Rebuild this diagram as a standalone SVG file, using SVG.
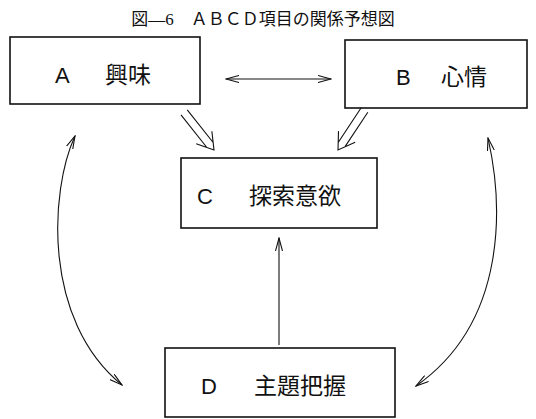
<svg xmlns="http://www.w3.org/2000/svg" width="536" height="419" viewBox="0 0 536 419">
<defs>
<style>
.box{fill:#fff;stroke:#111;stroke-width:1.6}
.lbl{font-family:"Liberation Sans","Noto Sans CJK JP",sans-serif;font-size:22px;fill:#111}
.jp{font-family:"Noto Sans CJK JP",sans-serif;font-size:23px;fill:#111}
.ttl{font-family:"Liberation Serif","Noto Sans CJK JP",serif;font-size:17px;fill:#111}
.ln{fill:none;stroke:#111;stroke-width:1.1}
</style>
<marker id="ah" viewBox="0 0 14 8" refX="13" refY="4" markerWidth="14" markerHeight="8" markerUnits="userSpaceOnUse" orient="auto-start-reverse">
<path d="M0,0.5 L13,4 L0,7.5" fill="none" stroke="#111" stroke-width="1.1"/>
</marker>
</defs>
<rect width="536" height="419" fill="#fff"/>
<text class="ttl" x="263" y="25" text-anchor="middle">図—6　ＡＢＣＤ項目の関係予想図</text>
<g id="nodeA"><rect class="box" x="10" y="37" width="190" height="67"/><text class="lbl" x="55" y="83">A</text><text class="jp" x="105" y="83">興味</text></g>
<g id="nodeB"><rect class="box" x="345" y="40" width="182" height="68"/><text class="lbl" x="396" y="85">B</text><text class="jp" x="441" y="85">心情</text></g>
<g id="nodeC"><rect class="box" x="181" y="158" width="196" height="70"/><text class="lbl" x="197" y="204">C</text><text class="jp" x="249" y="204">探索意欲</text></g>
<g id="nodeD"><rect class="box" x="165" y="348" width="230" height="69"/><text class="lbl" x="201" y="394">D</text><text class="jp" x="254" y="394">主題把握</text></g>
<g id="connectors">
<line class="ln" x1="226" y1="79" x2="331" y2="79" marker-start="url(#ah)" marker-end="url(#ah)"/>
<line class="ln" x1="279" y1="345" x2="279" y2="238" marker-end="url(#ah)"/>
<path class="ln" d="M75,136 C50,190 42,320 122,385" marker-start="url(#ah)" marker-end="url(#ah)"/>
<path class="ln" d="M488,138 C502,200 510,320 416,386" marker-start="url(#ah)" marker-end="url(#ah)"/>
<g transform="translate(214,150) rotate(51.5)">
<path class="ln" d="M-48,-4 L-6.4,-4 M-48,4 L-6.4,4 M-16,-10 L0,0 L-16,10"/>
</g>
<g transform="translate(338,150) rotate(123.5)">
<path class="ln" d="M-48,-4 L-6.4,-4 M-48,4 L-6.4,4 M-16,-10 L0,0 L-16,10"/>
</g>
</g>
</svg>
